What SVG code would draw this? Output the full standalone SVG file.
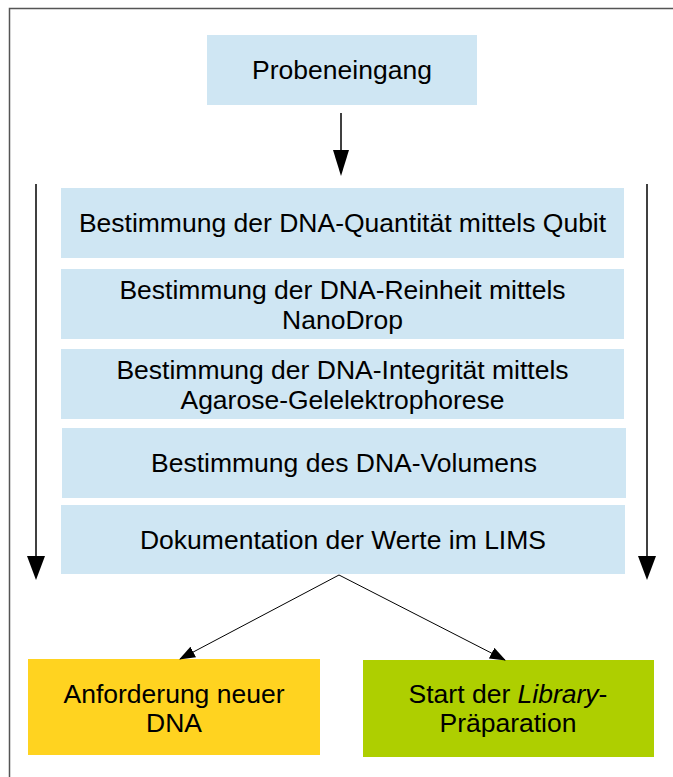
<svg xmlns="http://www.w3.org/2000/svg" width="673" height="777" viewBox="0 0 673 777">
<style>
.t{font-family:"Liberation Sans",Arial,sans-serif;font-size:26.5px;fill:#000;text-anchor:middle}
.b{fill:#cfe6f3}
.c{stroke:#000;fill:none}
</style>
<defs>
<marker id="ah" markerWidth="16" markerHeight="12" refX="15" refY="6" orient="auto" markerUnits="userSpaceOnUse">
<path d="M0,0 L16,6 L0,12 Z" fill="#000"/>
</marker>
</defs>
<rect x="0" y="0" width="673" height="777" fill="#fff"/>
<path d="M9.5,777 V8.5 H673" fill="none" stroke="#555" stroke-width="1.5"/>
<g id="n1"><rect class="b" x="207" y="35" width="270" height="70"/><text class="t" x="342" y="79">Probeneingang</text></g>
<g id="n2"><rect class="b" x="61" y="188" width="563" height="70"/><text class="t" x="342.5" y="232">Bestimmung der DNA-Quantität mittels Qubit</text></g>
<g id="n3"><rect class="b" x="61" y="269" width="563" height="70"/><text class="t" x="342.5" y="299">Bestimmung der DNA-Reinheit mittels</text><text class="t" x="342.5" y="329">NanoDrop</text></g>
<g id="n4"><rect class="b" x="61" y="349" width="563" height="70"/><text class="t" x="342.5" y="379">Bestimmung der DNA-Integrität mittels</text><text class="t" x="342.5" y="409">Agarose-Gelelektrophorese</text></g>
<g id="n5"><rect class="b" x="62" y="428" width="564" height="70"/><text class="t" x="344" y="472">Bestimmung des DNA-Volumens</text></g>
<g id="n6"><rect class="b" x="61" y="505" width="564" height="69"/><text class="t" x="343" y="549">Dokumentation der Werte im LIMS</text></g>
<g id="n7"><rect x="28" y="659" width="292" height="96" fill="#ffd320"/><text class="t" x="174" y="703">Anforderung neuer</text><text class="t" x="174" y="732">DNA</text></g>
<g id="n8"><rect x="363" y="660" width="291" height="97" fill="#aecf00"/><text class="t" x="508" y="703">Start der <tspan font-style="italic">Library</tspan>-</text><text class="t" x="508" y="732">Präparation</text></g>
<g id="connectors">
<path class="c" stroke-width="1.5" d="M341,113 V152"/>
<polygon points="333,150 349,150 341,176" fill="#000"/>
<path class="c" stroke-width="1.5" d="M36,184 V558"/>
<polygon points="27,556 45,556 36,580" fill="#000"/>
<path class="c" stroke-width="1.5" d="M647,184 V558"/>
<polygon points="638,556 656,556 647,580" fill="#000"/>
<path class="c" stroke-width="1" d="M339,575 L180,659" marker-end="url(#ah)"/>
<path class="c" stroke-width="1" d="M339,575 L505,660" marker-end="url(#ah)"/>
</g>
</svg>
